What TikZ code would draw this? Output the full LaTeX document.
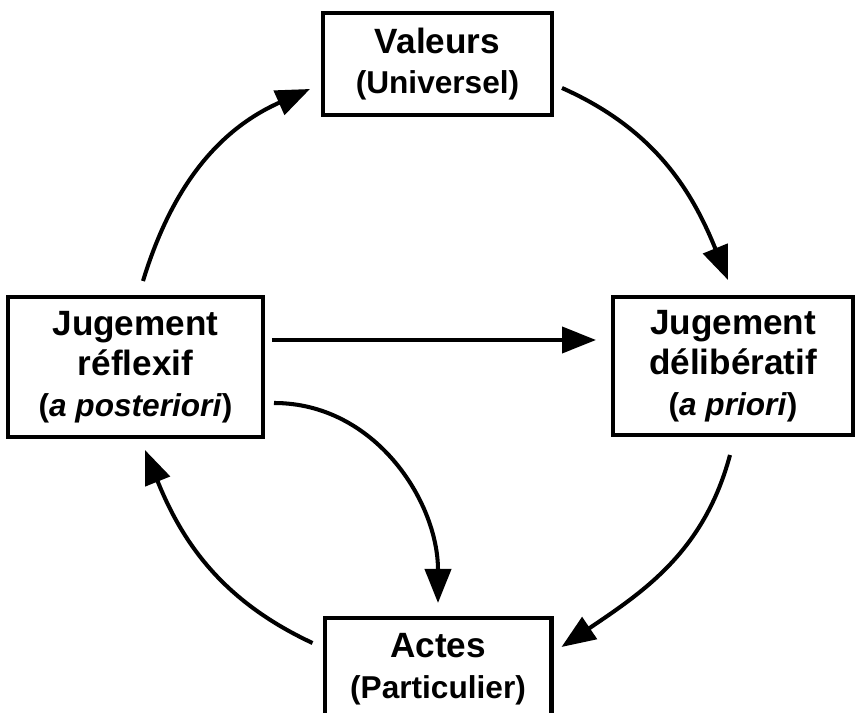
\documentclass[tikz,border=0pt]{standalone}
\usepackage{fontspec}
\setmainfont{Liberation Sans}
\usetikzlibrary{arrows.meta,calc}
\newcommand{\subline}[1]{\fontsize{18}{21}\selectfont #1}

\begin{document}
\begin{tikzpicture}[
  x=0.02cm, y=0.02cm,
  >={Triangle[length=0.68cm,width=0.52cm]},
  box/.style={rectangle, draw=black, line width=2.3pt, align=center, inner sep=0pt, font=\fontsize{20}{23}\selectfont\bfseries},
  arr/.style={->, line width=2.3pt, black},
]
\useasboundingbox (0,0) rectangle (856,713);
\clip (0,0) rectangle (856,713);

\node[box, minimum width=4.58cm, minimum height=2.04cm] (val) at (437.5,649) {Valeurs\\\subline{(Universel)}};
\node[box, minimum width=5.1cm, minimum height=2.8cm] (refl) at (135.5,346) {Jugement\\réflexif\\\subline{(\textit{a posteriori})}};
\node[box, minimum width=4.8cm, minimum height=2.76cm] (delib) at (733,347) {Jugement\\délibératif\\\subline{(\textit{a priori})}};
\node[box, minimum width=4.54cm, minimum height=2.04cm] (act) at (438,44) {Actes\\\subline{(Particulier)}};

\draw[arr] ($(refl.north)+(7.5,14)$) to[out=73,in=204] ($(val.west)+(-11,-25)$);
\draw[arr] ($(val.east)+(8,-24)$) to[out=-24,in=112] ($(delib.north)+(-5,15)$);
\draw[arr] ($(delib.south)+(-3,-18)$) to[out=-105,in=34] ($(act.east)+(8,22)$);
\draw[arr] ($(act.west)+(-10,26)$) to[out=155,in=-68] ($(refl.south)+(9.5,-11)$);
\draw[arr] ($(refl.east)+(7,27)$) -- ($(delib.west)+(-15,26)$);
\draw[arr] ($(refl.east)+(9,-36)$) to[out=0,in=90] ($(act.north)+(0,13)$);

\end{tikzpicture}
\end{document}
